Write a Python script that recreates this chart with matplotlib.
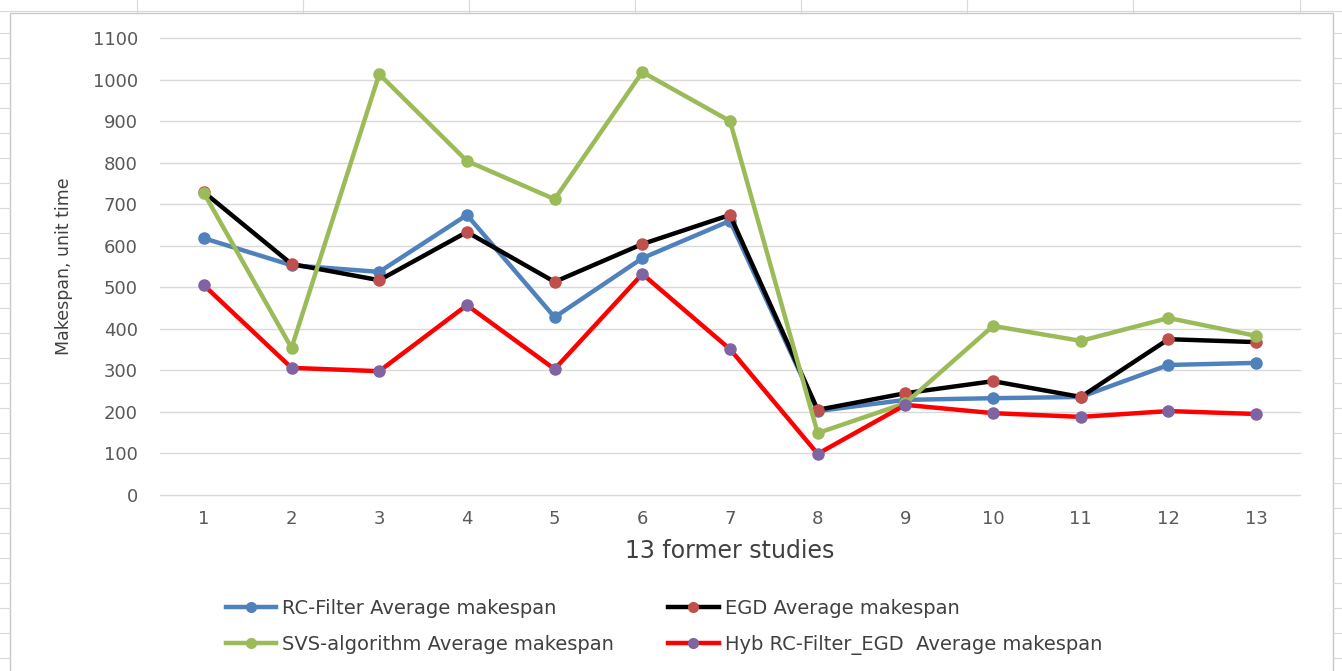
import numpy as np
import matplotlib.pyplot as plt
from matplotlib.lines import Line2D

plt.rcParams['font.family'] = ['DejaVu Sans']

studies = list(range(1, 14))
rc_filter = [618, 553, 537, 674, 428, 570, 660, 202, 229, 233, 236, 313, 318]
egd = [729, 556, 517, 633, 513, 604, 674, 205, 245, 274, 236, 375, 368]
svs = [727, 354, 1013, 804, 712, 1018, 900, 149, 221, 407, 371, 426, 383]
hyb = [505, 306, 298, 457, 303, 532, 351, 99, 217, 197, 188, 202, 195]

W, H = 1342, 671
fig = plt.figure(figsize=(W / 100, H / 100), dpi=100)

# spreadsheet cells peeking out behind the chart object
bg = fig.add_axes([0, 0, 1, 1])
bg.set_xlim(0, W)
bg.set_ylim(H, 0)
bg.axis('off')
cell = '#d9d9d9'
for xc in [137, 303, 469, 635, 801, 967, 1133, 1300]:
    bg.plot([xc, xc], [0, 12], color=cell, lw=0.8)
bg.plot([0, W], [11, 11], color=cell, lw=0.8)
for yc in np.arange(33, H, 25):
    bg.plot([0, 10], [yc, yc], color=cell, lw=0.8)
    bg.plot([1333, W], [yc, yc], color=cell, lw=0.8)
bg.add_patch(plt.Rectangle((10, 13), 1323, H, facecolor='white',
                           edgecolor='#c8c8c8', lw=1.0))

ax = fig.add_axes([160 / W, 1 - 495 / H, (1300 - 160) / W, (495 - 38) / H])
ax.set_facecolor('none')

series = [
    (rc_filter, '#4f81bd', '#4f81bd', 'RC-Filter Average makespan'),
    (egd, '#000000', '#c0504d', 'EGD Average makespan'),
    (svs, '#9bbb59', '#9bbb59', 'SVS-algorithm Average makespan'),
    (hyb, '#ff0000', '#8064a2', 'Hyb RC-Filter_EGD  Average makespan'),
]
for vals, lc, mc, name in series:
    ax.plot(studies, vals, color=lc, lw=3.2, marker='o', ms=8,
            markerfacecolor=mc, markeredgecolor=mc, label=name)

ax.set_xlim(0.5, 13.5)
ax.set_ylim(0, 1100)
ax.set_yticks(range(0, 1101, 100))
ax.set_xticks(studies)
ax.yaxis.grid(True, color='#d9d9d9', lw=1.0)
ax.set_axisbelow(True)
for gl in ax.get_ygridlines():
    gl.set_clip_on(False)
for s in ax.spines.values():
    s.set_visible(False)
ax.tick_params(length=0, labelsize=13, labelcolor='#595959')
ax.tick_params(axis='y', pad=16)
ax.tick_params(axis='x', pad=11)

ax.set_xlabel('13 former studies', fontsize=17, color='#404040', labelpad=8)
ax.set_ylabel('Makespan, unit time', fontsize=12.5, color='#404040', labelpad=14)

# legend fills column-wise, so order the entries to read row by row
order = [0, 2, 1, 3]
handles = [Line2D([], [], color=series[i][1], lw=3.2, marker='o', ms=7,
                  markerfacecolor=series[i][2], markeredgecolor=series[i][2])
           for i in order]
labels = [series[i][3] for i in order]
fig.legend(handles, labels, ncol=2, loc='center left',
           bbox_to_anchor=(208 / W, 1 - 627 / H), frameon=False,
           fontsize=14, handlelength=2.6, handletextpad=0.3,
           columnspacing=2.8, labelspacing=0.9, labelcolor='#404040')

fig.savefig('out.png', dpi=100)
